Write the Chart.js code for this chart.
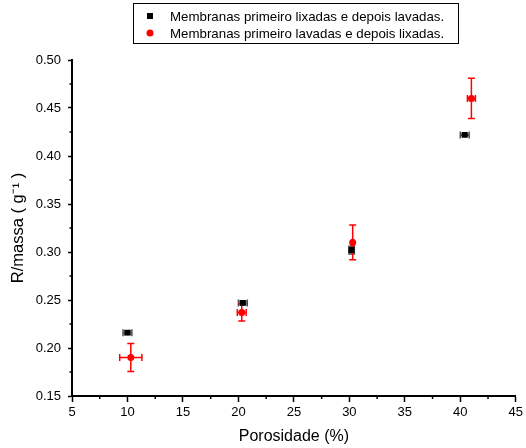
<!DOCTYPE html>
<html lang="pt">
<head>
    <meta charset="UTF-8">
    <title>R/massa vs Porosidade</title>
    <script src="https://cdn.jsdelivr.net/npm/chart.js@4.4.1/dist/chart.umd.min.js"></script>
    <style>
        html, body { margin: 0; padding: 0; background: #fff; }
        #wrap { width: 526px; height: 448px; }
    </style>
</head>
<body>
    <div id="wrap"><canvas id="porosChart" width="526" height="448"></canvas></div>

    <script>
        // Series 1: membranes sanded first, then washed (black squares)
        var labelLixLav = 'Membranas primeiro lixadas e depois lavadas.';
        var porosLixLav = [10.0, 20.4, 30.2, 40.4];
        var rmassaLixLav = [0.216, 0.247, 0.302, 0.422];
        var errXLixLav = [0.4, 0.4, 0.25, 0.4];
        var errYLixLav = [0.002, 0.002, 0.004, 0.001];

        // Series 2: membranes washed first, then sanded (red circles)
        var labelLavLix = 'Membranas primeiro lavadas e depois lixadas.';
        var porosLavLix = [10.3, 20.3, 30.3, 41.0];
        var rmassaLavLix = [0.190, 0.237, 0.310, 0.460];
        var errXLavLix = [1.0, 0.4, 0.1, 0.36];
        var errYLavLix = [0.0146, 0.009, 0.018, 0.021];

        // Axis ticks
        var xTicks = [5, 10, 15, 20, 25, 30, 35, 40, 45];
        var yTicks = [0.15, 0.20, 0.25, 0.30, 0.35, 0.40, 0.45, 0.50];

        var FONT = 'Liberation Sans, Arial, sans-serif';

        // Build points {x, y, ex, ey} from the arrays
        function makePoints(xs, ys, exs, eys) {
            var pts = [];
            for (var i = 0; i < xs.length; i++) {
                pts.push({x: xs[i], y: ys[i], ex: exs[i], ey: eys[i]});
            }
            return pts;
        }

        // Error bars drawn through the chart scales
        var errorBarPlugin = {
            id: 'errorBars',
            beforeDatasetsDraw: function(chart) {
                var ctx = chart.ctx;
                var xs = chart.scales.x, ys = chart.scales.y;
                chart.data.datasets.forEach(function(ds) {
                    ctx.save();
                    ctx.strokeStyle = ds.errorColor;
                    ctx.lineWidth = 1.5;
                    var cap = 3.5;
                    ds.data.forEach(function(p) {
                        var px = xs.getPixelForValue(p.x), py = ys.getPixelForValue(p.y);
                        var x0 = xs.getPixelForValue(p.x - p.ex), x1 = xs.getPixelForValue(p.x + p.ex);
                        var y0 = ys.getPixelForValue(p.y - p.ey), y1 = ys.getPixelForValue(p.y + p.ey);
                        ctx.beginPath();
                        ctx.moveTo(x0, py); ctx.lineTo(x1, py);
                        ctx.moveTo(x0, py - cap); ctx.lineTo(x0, py + cap);
                        ctx.moveTo(x1, py - cap); ctx.lineTo(x1, py + cap);
                        ctx.moveTo(px, y0); ctx.lineTo(px, y1);
                        ctx.moveTo(px - cap, y0); ctx.lineTo(px + cap, y0);
                        ctx.moveTo(px - cap, y1); ctx.lineTo(px + cap, y1);
                        ctx.stroke();
                    });
                    ctx.restore();
                });
            }
        };

        // Minor ticks halfway between the major ones
        var minorTickPlugin = {
            id: 'minorTicks',
            afterDraw: function(chart) {
                var ctx = chart.ctx, area = chart.chartArea;
                var xs = chart.scales.x, ys = chart.scales.y;
                ctx.save();
                ctx.strokeStyle = '#000';
                ctx.lineWidth = 1.5;
                ctx.beginPath();
                for (var i = 0; i < xTicks.length - 1; i++) {
                    var px = xs.getPixelForValue((xTicks[i] + xTicks[i + 1]) / 2);
                    ctx.moveTo(px, area.bottom); ctx.lineTo(px, area.bottom + 3);
                }
                for (var j = 0; j < yTicks.length - 1; j++) {
                    var py = ys.getPixelForValue((yTicks[j] + yTicks[j + 1]) / 2);
                    ctx.moveTo(area.left, py); ctx.lineTo(area.left - 2.5, py);
                }
                ctx.stroke();
                ctx.restore();
            }
        };

        // Boxed legend at the top
        var boxLegendPlugin = {
            id: 'boxLegend',
            afterDraw: function(chart) {
                var ctx = chart.ctx;
                ctx.save();
                ctx.strokeStyle = '#000';
                ctx.lineWidth = 1;
                ctx.strokeRect(133.5, 3.5, 325, 40);
                ctx.font = '13.3px ' + FONT;
                ctx.textBaseline = 'middle';
                chart.data.datasets.forEach(function(ds, i) {
                    var y = 16 + i * 17;
                    ctx.fillStyle = ds.backgroundColor;
                    if (ds.pointStyle === 'rect') {
                        ctx.fillRect(147, y - 3, 6, 6);
                    } else {
                        ctx.beginPath();
                        ctx.arc(150, y, 3.5, 0, Math.PI * 2);
                        ctx.fill();
                    }
                    ctx.fillStyle = '#000';
                    ctx.fillText(ds.label, 170, y + 1);
                });
                ctx.restore();
            }
        };

        var chart = new Chart(document.getElementById('porosChart'), {
            type: 'scatter',
            data: {
                datasets: [
                    {
                        label: labelLixLav,
                        data: makePoints(porosLixLav, rmassaLixLav, errXLixLav, errYLixLav),
                        backgroundColor: '#000',
                        borderColor: '#000',
                        pointStyle: 'rect',
                        pointRadius: 4.2,
                        borderWidth: 0,
                        errorColor: 'rgba(60,60,60,0.9)'
                    },
                    {
                        label: labelLavLix,
                        data: makePoints(porosLavLix, rmassaLavLix, errXLavLix, errYLavLix),
                        backgroundColor: '#ff0000',
                        borderColor: '#ff0000',
                        pointStyle: 'circle',
                        pointRadius: 3.5,
                        borderWidth: 0,
                        errorColor: '#ff0000'
                    }
                ]
            },
            options: {
                responsive: false,
                animation: false,
                layout: { padding: { top: 60, right: 9, left: 0, bottom: 0 } },
                plugins: {
                    legend: { display: false },
                    tooltip: { enabled: false }
                },
                scales: {
                    x: {
                        type: 'linear',
                        min: 5, max: 45,
                        afterFit: function(scale) { scale.height = 52; },
                        afterBuildTicks: function(scale) {
                            scale.ticks = xTicks.map(function(v) { return {value: v}; });
                        },
                        ticks: {
                            color: '#000', padding: 3, maxRotation: 0,
                            font: { family: FONT, size: 13 },
                            callback: function(v) { return String(v); }
                        },
                        grid: { drawOnChartArea: false, tickLength: 6, tickColor: '#000', tickWidth: 1.5 },
                        border: { color: '#000', width: 2 },
                        title: {
                            display: true, text: 'Porosidade (%)', color: '#000',
                            font: { family: FONT, size: 16 }, padding: { top: 0, bottom: 2 }
                        }
                    },
                    y: {
                        type: 'linear',
                        min: 0.15, max: 0.50,
                        afterFit: function(scale) { scale.width = 72; },
                        afterBuildTicks: function(scale) {
                            scale.ticks = yTicks.map(function(v) { return {value: v}; });
                        },
                        ticks: {
                            color: '#000', padding: 7,
                            font: { family: FONT, size: 13 },
                            callback: function(v) { return v.toFixed(2); }
                        },
                        grid: { drawOnChartArea: false, tickLength: 4, tickColor: '#000', tickWidth: 1.5 },
                        border: { color: '#000', width: 2 },
                        title: {
                            display: true, text: 'R/massa ( g\u207B\u00B9 )', color: '#000',
                            font: { family: FONT, size: 16.5 }, padding: { top: 9, bottom: 0 }
                        }
                    }
                }
            },
            plugins: [errorBarPlugin, minorTickPlugin, boxLegendPlugin]
        });
    </script>
</body>
</html>
